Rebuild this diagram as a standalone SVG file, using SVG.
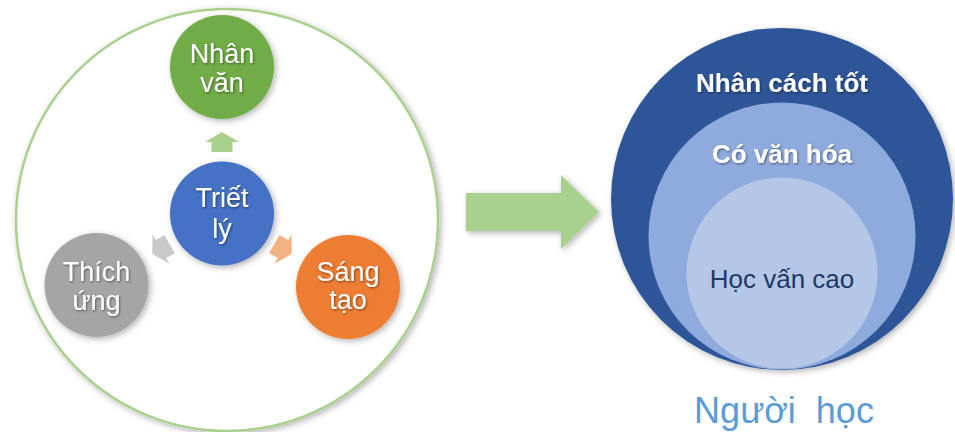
<svg xmlns="http://www.w3.org/2000/svg" width="955" height="432" viewBox="0 0 955 432">
<defs>
<filter id="sh" x="-20%" y="-20%" width="140%" height="140%">
<feDropShadow dx="2" dy="2" stdDeviation="3" flood-color="#000" flood-opacity="0.3"/>
</filter>
<filter id="tsh" x="-10%" y="-20%" width="120%" height="140%">
<feDropShadow dx="1" dy="1.2" stdDeviation="0.8" flood-color="#000" flood-opacity="0.45"/>
</filter>
<path id="blk" d="M0,-10 L17,0 L10.5,0 L10.5,10 L-10.5,10 L-10.5,0 L-17,0 Z"/>
</defs>
<style>
.nt{font-family:"Liberation Sans",Arial,sans-serif;font-size:27px;fill:#fff;text-anchor:middle;filter:url(#tsh)}
.rt{font-family:"Liberation Sans",Arial,sans-serif;font-size:26px;text-anchor:middle;filter:url(#tsh)}
.b{font-weight:bold;fill:#fff}
</style>
<rect width="955" height="432" fill="#fff"/>
<g id="frame">
<circle cx="227" cy="220" r="211" fill="#fff" stroke="#A9D18E" stroke-width="2.5" filter="url(#sh)"/>
</g>
<g id="connectors">
<use href="#blk" transform="translate(222,142)" fill="#A9D18E"/>
<use href="#blk" transform="translate(283,249) rotate(120)" fill="#F4B183"/>
<use href="#blk" transform="translate(161,249) rotate(-120)" fill="#C9C9C9"/>
<polygon points="466,193 561,193 561,175 599,212 561,249 561,231 466,231" fill="#A9D18E" filter="url(#sh)"/>
</g>
<g id="nhan-van">
<circle cx="222" cy="67" r="52" fill="#70AD47" filter="url(#sh)"/>
<text class="nt" x="222" y="63">Nhân</text>
<text class="nt" x="222" y="92">văn</text>
</g>
<g id="triet-ly">
<circle cx="222" cy="213.5" r="52" fill="#4472C4" filter="url(#sh)"/>
<text class="nt" x="222" y="207">Triết</text>
<text class="nt" x="222" y="238">lý</text>
</g>
<g id="sang-tao">
<circle cx="348" cy="287" r="52" fill="#ED7D31" filter="url(#sh)"/>
<text class="nt" x="348" y="281">Sáng</text>
<text class="nt" x="348" y="309">tạo</text>
</g>
<g id="thich-ung">
<circle cx="96.5" cy="285" r="52" fill="#A5A5A5" filter="url(#sh)"/>
<text class="nt" x="96.5" y="281">Thích</text>
<text class="nt" x="96.5" y="310">ứng</text>
</g>
<g id="nhan-cach-tot">
<circle cx="782" cy="199" r="171" fill="#2F5597" filter="url(#sh)"/>
<text class="rt b" x="782" y="92">Nhân cách tốt</text>
</g>
<g id="co-van-hoa">
<circle cx="782" cy="236" r="133.5" fill="#8FAADC"/>
<text class="rt b" x="782" y="163">Có văn hóa</text>
</g>
<g id="hoc-van-cao">
<circle cx="782" cy="273" r="95.5" fill="#B4C7E7"/>
<text class="rt" x="782" y="288" fill="#1F3864" style="filter:none">Học vấn cao</text>
</g>
<g id="nguoi-hoc">
<text x="784" y="423" font-family="Liberation Sans, Arial, sans-serif" font-size="36" fill="#5B9BD5" text-anchor="middle" xml:space="preserve">Người  học</text>
</g>
</svg>
